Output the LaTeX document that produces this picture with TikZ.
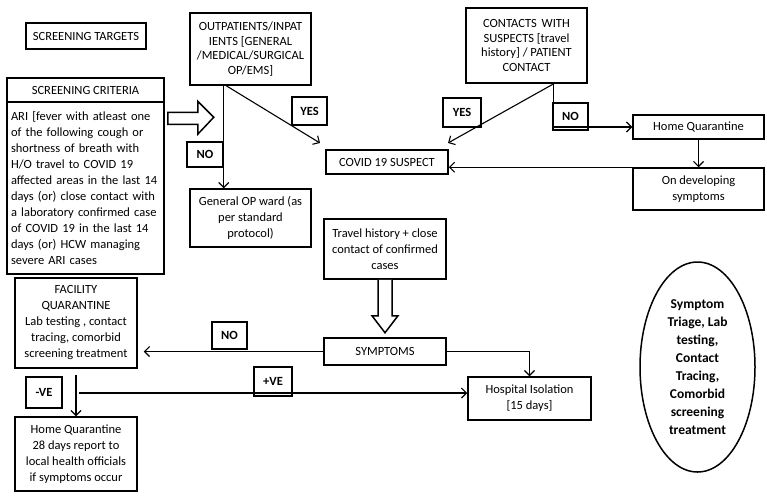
\documentclass[tikz,border=0pt]{standalone}
\usepackage{fontspec}
\setmainfont{Carlito}
\usetikzlibrary{arrows.meta,calc,shapes.geometric}
\begin{document}
\begin{tikzpicture}[x=1pt,y=-1pt,
  box/.style={draw,line width=1.5pt,inner sep=1pt,align=center,font=\fontsize{12.5}{16}\selectfont},
  tightbox/.style={box,font=\fontsize{12.5}{14.5}\selectfont},
  lab/.style={draw,line width=1.5pt,inner sep=0pt,font=\bfseries\fontsize{12.5}{15}\selectfont},
  wh/.style 2 args={minimum width=#1pt,minimum height=#2pt},
  conn/.style={line width=1.1pt,-{Straight Barb[length=5pt,width=10pt,line width=1.1pt]}},
  hollow/.style={draw,line width=1.5pt,fill=white,line join=miter}
  ]
\useasboundingbox[fill=white] (0,0) rectangle (767,499);

% boxes
\node[box,wh={120}{26}] (tgt) at (86,36) {SCREENING TARGETS};
\node[box,wh={157}{24}] (crit) at (85.5,90) {SCREENING CRITERIA};
\node[box,wh={157}{172},text width=149pt,align=left] (ari) at (85.5,188)
 {ARI [fever with atleast one\\of the following cough or\\shortness of breath with\\H/O travel to COVID 19\\affected areas in the last 14\\days (or) close contact with\\a laboratory confirmed case\\of COVID 19 in the last 14\\days (or) HCW managing\\severe ARI cases};
\node[tightbox,wh={121}{72}] (opd) at (250.5,49) {OUTPATIENTS/INPAT\\IENTS [GENERAL\\/MEDICAL/SURGICAL\\OP/EMS]};
\node[box,wh={121}{58}] (gen) at (250.5,218) {General OP ward (as\\per standard\\protocol)};
\node[box,wh={122}{24}] (cov) at (387,162) {COVID 19 SUSPECT};
\node[tightbox,wh={121}{75}] (con) at (526.5,45.5) {CONTACTS\, WITH\\SUSPECTS [travel\\history] / PATIENT\\CONTACT};
\node[box,wh={131}{24}] (hq) at (698.5,127) {Home Quarantine};
\node[box,wh={131}{42}] (dev) at (698.5,189) {On developing\\symptoms};
\node[box,wh={122}{60}] (trav) at (385,249) {Travel history + close\\contact of confirmed\\cases};
\node[box,wh={122}{27}] (sym) at (385,351.5) {SYMPTOMS};
\node[box,wh={123}{43}] (hosp) at (529.5,398.5) {Hospital Isolation\\{[15 days]}};
\node[box,wh={122}{90}] (fq) at (76,323) {FACILITY\\QUARANTINE\\Lab testing , contact\\tracing, comorbid\\screening treatment};
\node[box,wh={122}{74}] (hqe) at (76,454) {Home Quarantine\\28 days report to\\local health officials\\if symptoms occur};
\node[draw,line width=1.5pt,ellipse,inner sep=0pt,wh={115}{210},align=center,
      font=\bfseries\fontsize{13.5}{18}\selectfont] (ell) at (697.5,367)
 {Symptom\\Triage, Lab\\testing,\\Contact\\Tracing,\\Comorbid\\screening\\treatment};

% labels
\node[lab,wh={36}{25}] (no1) at (205,154.5) {NO};
\node[lab,wh={35}{28}] (yes1) at (309.5,111) {YES};
\node[lab,wh={38}{29}] (yes2) at (462,112.5) {YES};
\node[lab,wh={35}{27}] (no2) at (570.5,116.5) {NO};
\node[lab,wh={35}{27}] (no3) at (229.5,335.5) {NO};
\node[lab,wh={36}{31}] (neg) at (44,392.5) {-VE};
\node[lab,wh={38}{29}] (pos) at (273,381.5) {+VE};

% helper coordinates
\coordinate (c1) at (320,143);
\coordinate (c2) at (448,143);
\coordinate (c3) at (79,393);

% connectors
\draw[conn] (opd.south -| no1.east) -- (gen.north -| no1.east);
\draw[conn] ([xshift=37pt]opd.south west) -- (c1);
\draw[conn] ([xshift=-34pt]con.south east) -- (c2);
\draw[conn] ([xshift=-34pt]con.south east) |- (hq.west);
\draw[conn] (hq.south) -- (dev.north);
\draw[conn] (dev.north west) -- (dev.north west -| cov.east);
\draw[conn,shorten >=6pt] (sym.west) -- (sym.west -| fq.east);
\draw[conn] (sym.east) -| (hosp.north);
\draw[conn,shorten <=6pt] (fq.south) -- (hqe.north);
\draw[conn] (c3) -- (c3 -| hosp.west);

% hollow arrows
\draw[hollow] ($(ari.north east)+(3,11)$) -- ++(30,0) -- ++(0,-11) -- ++(16,16)
  -- ++(-16,17) -- ++(0,-10) -- ++(-30,0) -- cycle;
\draw[hollow] ($(trav.south)+(-7,0)$) -- ++(0,36) -- ++(-6,0) -- ++(13,17)
  -- ++(13,-17) -- ++(-6,0) -- ++(0,-36);
\end{tikzpicture}
\end{document}
